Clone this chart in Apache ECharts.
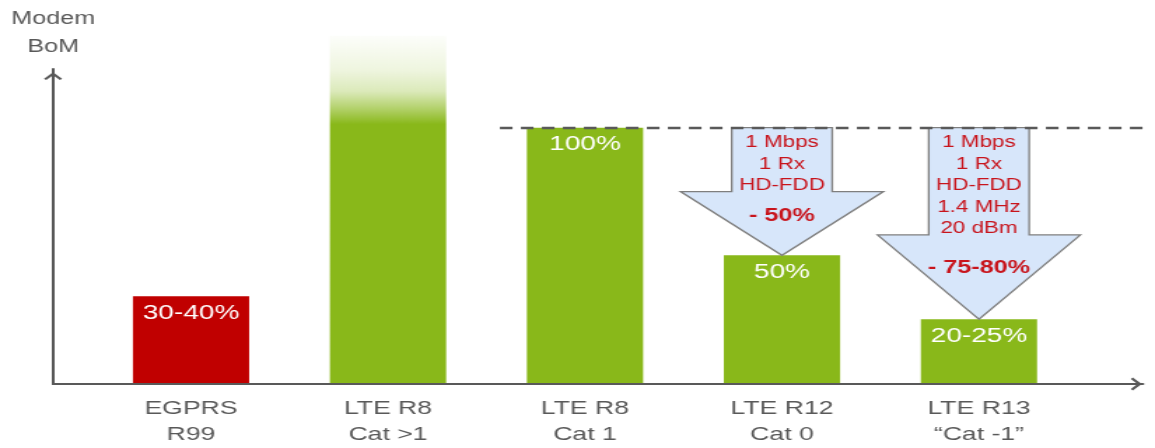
<!DOCTYPE html>
<html>
<head>
<meta charset="utf-8">
<script src="https://cdn.jsdelivr.net/npm/echarts@6/dist/echarts.min.js"></script>
<style>
  html, body { margin: 0; padding: 0; overflow: hidden; background: #fff; }
  /* the chart is laid out narrow and widened, giving the broad lettering of the slide */
  #chart { width: 825px; height: 448px; transform: scaleX(1.4); transform-origin: 0 0; }
</style>
</head>
<body>
<div id="chart"></div>
<script>
// Modem bill of materials, relative to LTE Cat 1 (= 100 %)
const categories = ['EGPRS\nR99', 'LTE R8\nCat >1', 'LTE R8\nCat 1', 'LTE R12\nCat 0', 'LTE R13\n\u201cCat -1\u201d'];
const bomShare = [34, 136, 100, 50, 25];
const shareLabels = ['30-40%', '', '100%', '50%', '20-25%'];
const barKinds = ['legacy', 'open', 'lte', 'lte', 'lte'];

// reduction arrows: category, level where the head starts, feature list, saving
const arrowCategory = [3, 4];
const arrowHeadLevel = [75, 58];
const arrowNotes = ['1 Mbps\n1 Rx\nHD-FDD', '1 Mbps\n1 Rx\nHD-FDD\n1.4 MHz\n20 dBm'];
const arrowSaving = ['- 50%', '- 75-80%'];

// Cat 1 reference level and the span of its dashed line on the frame axis (0-100)
const referenceLevel = 100;
const referenceSpan = [41, 100];

const axisName = 'Modem\nBoM';

const FONT = "'Liberation Sans', Arial, sans-serif";
const GREY = '#595959';
const RED = '#c00000';
const GREEN = '#89b81a';
const NOTE_RED = '#c8141c';

const chevron = 'path://M9,0 L18,9 L15.8,11 L9,4.4 L2.2,11 L0,9 Z';

const fills = {
  legacy: RED,
  lte: GREEN,
  open: new echarts.graphic.LinearGradient(0, 0, 0, 1, [
    { offset: 0, color: 'rgba(137,184,26,0.02)' },
    { offset: 0.1, color: 'rgba(137,184,26,0.14)' },
    { offset: 0.16, color: 'rgba(137,184,26,0.3)' },
    { offset: 0.21, color: 'rgba(137,184,26,0.65)' },
    { offset: 0.255, color: 'rgba(137,184,26,1)' },
    { offset: 1, color: 'rgba(137,184,26,1)' }
  ])
};

const barData = bomShare.map((v, i) => ({
  value: v,
  itemStyle: { color: fills[barKinds[i]] },
  label: { show: shareLabels[i] !== '', formatter: shareLabels[i] }
}));

const arrowData = arrowCategory.map((c, i) => [c, referenceLevel, arrowHeadLevel[i], bomShare[c], i]);

function renderArrow(params, api) {
  const c = api.value(0);
  const k = api.value(4);
  const top = api.coord([c, api.value(1)]);
  const neck = api.coord([c, api.value(2)]);
  const tip = api.coord([c, api.value(3)]);
  const band = api.size([1, 0])[0];
  const sw = band * 0.255, hw = band * 0.515;
  const x = tip[0];
  const pts = [
    [x - sw, top[1]], [x + sw, top[1]], [x + sw, neck[1]], [x + hw, neck[1]],
    [x, tip[1]], [x - hw, neck[1]], [x - sw, neck[1]]
  ];
  return {
    type: 'group',
    children: [
      {
        type: 'polygon',
        shape: { points: pts },
        style: { fill: '#d7e6fa', stroke: '#7f7f7f', lineWidth: 1.3 }
      },
      {
        type: 'text',
        style: {
          text: arrowNotes[k], x: x, y: top[1] + 4,
          align: 'center', verticalAlign: 'top',
          fill: NOTE_RED, fontSize: 16, fontFamily: FONT, lineHeight: 21.6
        }
      },
      {
        type: 'text',
        style: {
          text: arrowSaving[k], x: x, y: neck[1] + (tip[1] - neck[1]) * 0.39,
          align: 'center', verticalAlign: 'middle',
          fill: NOTE_RED, fontSize: 18, fontWeight: 'bold', fontFamily: FONT
        }
      }
    ]
  };
}

const chart = echarts.init(document.getElementById('chart'));
chart.setOption({
  animation: false,
  backgroundColor: '#fff',
  textStyle: { fontFamily: FONT },
  grid: [
    { left: 37.9, right: 8.6, top: 69.1, bottom: 64 },
    { left: 66.1, right: 55.4, top: 25.6, bottom: 64 }
  ],
  xAxis: [
    {
      gridIndex: 0, type: 'value', min: 0, max: 100,
      axisLine: {
        show: true, symbol: ['none', chevron], symbolSize: [13, 9.5], symbolOffset: [0, -4.75],
        lineStyle: { color: GREY, width: 2 }
      },
      axisTick: { show: false }, axisLabel: { show: false }, splitLine: { show: false }
    },
    {
      gridIndex: 1, type: 'category', data: categories,
      axisLine: { show: false }, axisTick: { show: false }, splitLine: { show: false },
      axisLabel: { color: GREY, fontSize: 19, lineHeight: 26, margin: 13, fontFamily: FONT }
    }
  ],
  yAxis: [
    {
      gridIndex: 0, type: 'value', min: 0, max: 123,
      name: axisName, nameLocation: 'end', nameGap: 8,
      nameTextStyle: { color: GREY, fontSize: 18, lineHeight: 28, align: 'center', fontFamily: FONT },
      axisLine: {
        show: true, symbol: ['none', chevron], symbolSize: [13, 14], symbolOffset: [0, -7],
        lineStyle: { color: GREY, width: 2 }
      },
      axisTick: { show: false }, axisLabel: { show: false }, splitLine: { show: false }
    },
    {
      gridIndex: 1, type: 'value', min: 0, max: 140, show: false
    }
  ],
  series: [
    {
      type: 'bar', xAxisIndex: 1, yAxisIndex: 1, barWidth: '59%',
      data: barData,
      label: { position: 'insideTop', distance: 7, color: '#fff', fontSize: 20, fontFamily: FONT },
      z: 2
    },
    {
      type: 'custom', xAxisIndex: 1, yAxisIndex: 1,
      data: arrowData, renderItem: renderArrow, z: 3
    },
    {
      type: 'line', xAxisIndex: 0, yAxisIndex: 0, clip: false, symbol: 'none',
      data: referenceSpan.map(x => [x, referenceLevel]),
      lineStyle: { color: GREY, width: 2.6, type: [9, 6] },
      z: 4
    }
  ]
});
</script>
</body>
</html>
